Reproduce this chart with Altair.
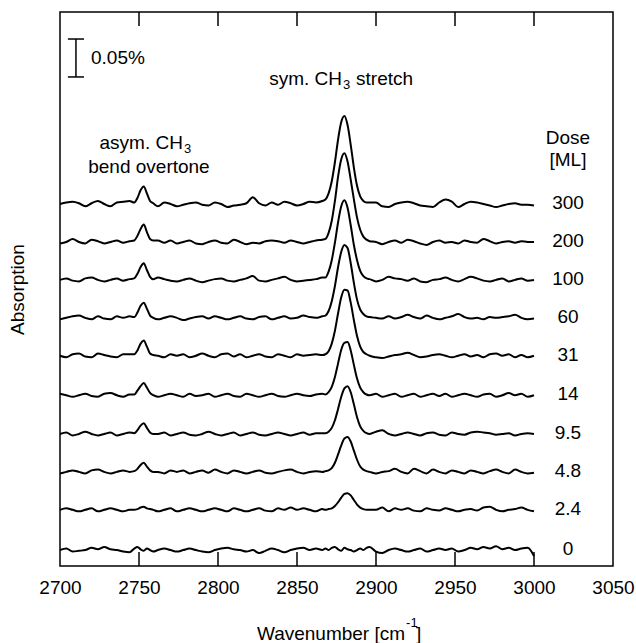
import altair as alt
import pandas as pd

# Sampling grid (wavenumber, cm^-1)
WAVENUMBER = [2700, 2704, 2708, 2712, 2716, 2720, 2724, 2728, 2732, 2736, 2740, 2744,
              2747, 2749, 2751, 2753, 2755, 2757, 2759,
              2762, 2766, 2770, 2774, 2778, 2782, 2786, 2790, 2794, 2798, 2802, 2806, 2810,
              2814, 2818, 2822, 2826, 2830, 2834, 2838, 2842, 2846, 2850, 2854, 2858, 2862, 2866,
              2868, 2870, 2872, 2874, 2876, 2878, 2880, 2882, 2884, 2886, 2888, 2890, 2892, 2894, 2896,
              2900, 2904, 2908, 2912, 2916, 2920, 2924, 2928, 2932, 2936, 2940, 2944, 2948, 2952,
              2956, 2960, 2964, 2968, 2972, 2976, 2980, 2984, 2988, 2992, 2996, 3000]

# Dose labels and vertical offsets of each trace (in % absorption)
DOSES = ["300", "200", "100", "60", "31", "14", "9.5", "4.8", "2.4", "0"]
OFFSETS = [0.477, 0.427, 0.377, 0.327, 0.277, 0.225, 0.174, 0.124, 0.074, 0.021]

# Absorption signal of each trace, units of 0.001 %
ABS_300 = [0, 2, 3, 1, -3, 1, 4, 0, -3, 2, 3, 4,
           2, 8, 18, 23, 14, 4, 1,
           -3, 2, 0, -3, -1, 1, 2, -1, -2, 2, 0, -4, -2, -1, 1, 9, 1, -2, 2, -1, 3, 1, -2, 0, 3, 2, 4,
           6, 14, 30, 55, 85, 108, 116, 104, 78, 48, 24, 10, 4, 2, 2,
           2, -3, -4, 0, 2, 3, 1, -2, -3, -4, 2, 6, 3, -4, 0, 3, 2, 0, -2, -4, -2, 0, 1, -1, -1, -2]
ABS_200 = [-2, 0, 4, 0, -2, 3, 1, -2, 0, 2, -1, 1,
           2, 8, 17, 23, 13, 4, 2,
           2, -1, 2, -2, 0, 2, -2, -3, 0, 2, -1, -2, 3, 0, -3, -1, -2, 1, 2, 1, -1, 2, 0, -2, 0, 2, 3,
           4, 12, 28, 54, 86, 109, 117, 106, 82, 56, 32, 16, 7, 3, 1,
           0, -3, 0, 2, -1, 3, 1, -2, -4, 0, 2, -1, 0, -2, 2, 0, -1, 4, 1, -2, 0, 1, -1, 1, 0, 0]
ABS_100 = [0, 2, -1, -2, 2, 3, 0, -2, 0, 2, -1, 1,
           2, 8, 17, 22, 13, 4, 1,
           3, 1, -1, -2, 0, 2, -1, -3, -1, 1, 2, -1, -2, 0, 2, 5, -1, -2, 0, 2, 4, 0, -2, -1, 0, 1, 3,
           3, 11, 26, 49, 76, 97, 105, 95, 72, 46, 26, 12, 5, 2, 1,
           -2, 0, 4, 2, 1, -1, 2, -2, -3, 0, 1, 3, 0, -2, 1, 4, 2, -1, -2, 0, 2, -2, 0, 2, -1, 0]
ABS_60 = [-2, 0, 2, 3, 0, -2, 2, -1, -2, 2, 0, 2,
          1, 7, 16, 20, 12, 3, 0,
          -2, 0, 2, 0, -3, -1, 1, 2, -1, 2, 0, -2, 0, 2, -1, -2, 1, 2, -2, 0, 2, -1, 0, 3, 1, 0, 2,
          3, 9, 22, 42, 67, 87, 96, 92, 72, 46, 24, 11, 5, 2, 1,
          0, -1, 2, -1, 1, 4, 1, -1, 3, 0, -2, 0, 2, 5, 1, -1, 0, -2, 1, 0, 1, 2, 4, 0, -2, -1]
ABS_31 = [0, -2, 2, 3, -1, -2, 3, 1, -1, -2, 2, 2,
          2, 7, 16, 20, 12, 3, 1,
          0, -2, 2, 0, 2, -2, 0, 3, 0, -2, 2, 3, -1, 2, -2, 0, 2, -1, -2, 2, 0, -2, 2, 0, 1, 2, 1,
          2, 6, 16, 33, 56, 77, 87, 86, 70, 47, 26, 12, 5, 2, 0,
          -2, -3, -1, 1, 2, 4, 1, -2, -1, 1, 2, 0, -2, 0, 2, -1, 1, -2, 2, 3, 0, 2, -2, 1, -2, 0]
ABS_14 = [2, 0, -2, 0, 2, -1, -2, 2, 3, 0, -2, 1,
          1, 6, 12, 16, 10, 3, 0,
          -2, 0, 2, 0, -2, 2, -1, 0, 2, -2, 0, 2, -1, -2, 2, 0, -2, 0, 2, -1, -2, 0, 2, 0, -1, 1, 2,
          1, 4, 11, 24, 42, 60, 69, 70, 59, 40, 22, 10, 4, 1, 0,
          2, -2, 0, 2, -2, 0, 2, -2, 0, 2, -1, 2, -2, 0, 2, 0, -2, 1, 2, -2, 0, 3, 0, 2, -2, 0]
ABS_9_5 = [0, 2, -2, 0, 3, 0, -2, 0, 2, -2, 0, 2,
           1, 5, 11, 14, 8, 2, 0,
           0, 2, -2, 0, 2, -1, -2, 0, 3, 0, -2, 0, 2, -2, 0, 2, -1, -2, 0, 2, 0, -2, 0, 2, -1, 1, 1,
           1, 3, 8, 18, 33, 49, 60, 63, 55, 39, 22, 10, 4, 1, 0,
           3, 5, 0, -2, 0, 2, 0, -2, 1, 2, -1, -2, 2, 0, -1, 2, 3, 2, 1, -1, 0, 1, -2, 0, 1, 0]
ABS_4_8 = [-2, 0, 2, 0, -2, 2, 3, 0, -2, 0, 2, 0,
           1, 4, 9, 12, 7, 2, 0,
           0, -2, 2, 0, 2, -2, 0, 2, -1, 3, 0, -2, 2, 0, -2, 0, 2, -1, -2, 0, 2, 3, 0, -2, 0, 1, 0,
           1, 2, 5, 12, 23, 35, 44, 46, 40, 28, 16, 7, 3, 1, 0,
           -2, 0, 1, 4, 0, -2, 4, 1, -2, 3, 0, -2, 2, 0, -2, 2, 0, -2, 1, 3, 0, -2, 3, 0, -2, -1]
ABS_2_4 = [0, 2, 0, -2, 0, 2, -2, 0, 2, 0, -2, 0,
           0, 1, 3, 4, 2, 1, 0,
           -2, 0, 2, -2, 0, 2, 0, -2, 0, 2, 0, -2, 2, 0, -2, 0, 2, -1, -2, 2, 0, 3, 0, 2, 0, -2, 1,
           0, 1, 2, 5, 10, 16, 21, 22, 19, 13, 7, 3, 1, 0, 0,
           0, 3, -2, 2, 0, 2, -1, -2, 2, 0, -1, 2, 0, -2, 0, 1, -1, 3, 4, 0, -2, 0, 1, 3, 0, -2]
ABS_0 = [0, 2, -2, -1, 0, 3, 1, 4, 1, 0, -2, -3,
         2, 4, 1, -1, 2, 0, -2,
         0, 2, 0, -2, 0, 2, 0, -2, -3, 0, 2, 3, 1, 0, -2, 0, -4, -1, 2, 0, -3, 0, 2, 3, 0, 2, 0,
         2, 0, 3, 4, 1, -1, 3, 1, 0, -2, 0, 2, 0, 3, 4,
         -2, -4, 0, 2, 0, -2, 0, 2, -2, 0, 2, 0, 2, -2, 0, 3, 1, 4, 2, 5, 1, 3, 0, 2, 3, -8]

SERIES = [ABS_300, ABS_200, ABS_100, ABS_60, ABS_31, ABS_14, ABS_9_5, ABS_4_8, ABS_2_4, ABS_0]

X_TICKS = [2700, 2750, 2800, 2850, 2900, 2950, 3000, 3050]
INNER_TICKS = [2750, 2800, 2850, 2900, 2950, 3000]

FONT = "Liberation Sans"
W, H = 553, 554

rows = []
for dose, off, vals in zip(DOSES, OFFSETS, SERIES):
    for wn, v in zip(WAVENUMBER, vals):
        rows.append({"wn": wn, "y": off + v / 1000.0, "dose": dose})
df = pd.DataFrame(rows)

xscale = alt.Scale(domain=[2700, 3050], nice=False, zero=False)
yscale = alt.Scale(domain=[0, 0.73], nice=False, zero=False)
xaxis = alt.Axis(values=X_TICKS, format="d", ticks=False, domain=False, grid=False,
                 labelFontSize=19, labelPadding=12, labelFlush=False, labelColor="black",
                 labelFont=FONT, title=None, labelOverlap=False)
yaxis = alt.Axis(labels=False, ticks=False, domain=False, grid=False, title="Absorption",
                 titleFontSize=19, titleFontWeight="normal", titleColor="black",
                 titleFont=FONT, titlePadding=33)


def X(field="wn"):
    return alt.X(f"{field}:Q", scale=xscale, axis=xaxis)


def Y(field="y"):
    return alt.Y(f"{field}:Q", scale=yscale, axis=yaxis)


lines = alt.Chart(df).mark_line(color="black", strokeWidth=2, interpolate="monotone").encode(
    x=X(), y=Y(), detail="dose:N"
)

lab_df = pd.DataFrame({"wn": [3021.5] * len(DOSES), "y": OFFSETS, "txt": DOSES})
labels = alt.Chart(lab_df).mark_text(fontSize=19, align="center", baseline="middle", dy=-1,
                                     color="black").encode(x=X(), y=Y(), text="txt:N")

tick_df = pd.DataFrame({"wn": INNER_TICKS})
ticks_bottom = alt.Chart(tick_df).mark_rule(color="black", strokeWidth=1.5).encode(
    x=X(), y=alt.value(H), y2=alt.value(H - 14))
ticks_top = alt.Chart(tick_df).mark_rule(color="black", strokeWidth=1.5).encode(
    x=X(), y=alt.value(0), y2=alt.value(14))

# Scale bar 0.05 %
bar_df = pd.DataFrame({"wn": [2710.1], "y": [0.6444], "y2": [0.6944]})
bar = alt.Chart(bar_df).mark_rule(color="black", strokeWidth=1.5).encode(
    x=X(), y=Y(), y2="y2:Q")
cap_df = pd.DataFrame({"wn": [2705.0, 2705.0], "wn2": [2715.2, 2715.2], "y": [0.6444, 0.6944]})
caps = alt.Chart(cap_df).mark_rule(color="black", strokeWidth=1.5).encode(
    x=X(), x2="wn2:Q", y=Y())


def text_layer(wn, y, txt, align="left", size=19, dx=0, dy=0):
    d = pd.DataFrame({"wn": [wn], "y": [y], "txt": [txt]})
    return alt.Chart(d).mark_text(fontSize=size, align=align, baseline="middle", dx=dx, dy=dy,
                                  color="black").encode(x=X(), y=Y(), text="txt:N")


annots = [
    text_layer(2719.6, 0.6694, "0.05%"),
    text_layer(2878.5, 0.6417, "sym. CH", align="right"),
    text_layer(2878.5, 0.6417, "3", size=13, dx=1, dy=6),
    text_layer(2878.5, 0.6417, "stretch", dx=14),
    text_layer(2777.8, 0.5574, "asym. CH", align="right"),
    text_layer(2777.8, 0.5574, "3", size=13, dx=1, dy=6),
    text_layer(2756.3, 0.5258, "bend overtone", align="center"),
    text_layer(3021.5, 0.564, "Dose", align="center"),
    text_layer(3021.5, 0.535, "[ML]", align="center"),
]


def xtitle_layer(wn, ypx, txt, align="left", size=19, dx=0):
    d = pd.DataFrame({"wn": [wn], "txt": [txt]})
    return alt.Chart(d).mark_text(fontSize=size, align=align, baseline="middle", dx=dx,
                                  color="black").encode(x=X(), y=alt.value(ypx), text="txt:N")


xtitle = [
    xtitle_layer(2918.4, 622, "Wavenumber [cm", align="right"),
    xtitle_layer(2918.4, 611, "-1", size=13, dx=1),
    xtitle_layer(2918.4, 622, "]", dx=11),
]

chart = alt.layer(lines, labels, ticks_bottom, ticks_top, bar, caps, *annots, *xtitle).properties(
    width=W, height=H,
    autosize=alt.AutoSizeParams(type="none"),
    padding={"left": 60, "top": 12, "right": 23, "bottom": 77},
).configure(font=FONT, background="white").configure_view(
    stroke="black", strokeWidth=1.5, fill="white")

chart.save("out.html", embed_options={"renderer": "svg", "actions": False})
